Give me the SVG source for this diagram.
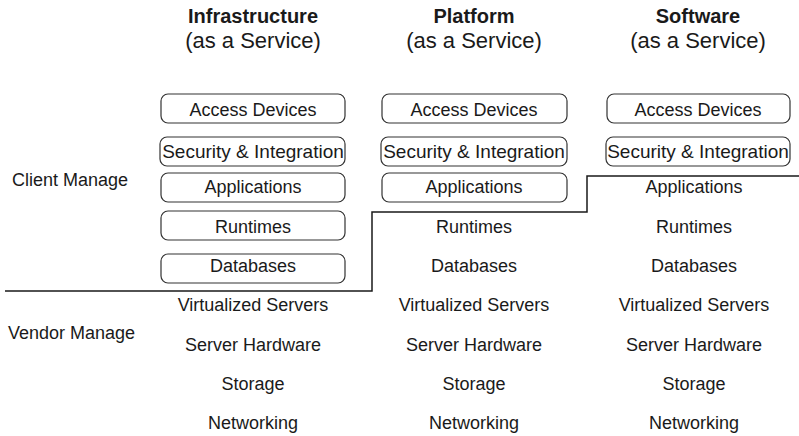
<svg xmlns="http://www.w3.org/2000/svg" width="799" height="436" viewBox="0 0 799 436">
  <style>
    text { font-family: "Liberation Sans", Arial, sans-serif; fill: #1a1a1a; text-anchor: middle; }
    .title { font-size: 20px; font-weight: bold; }
    .sub { font-size: 22px; }
    .lbl { font-size: 18px; }
    .wide { font-size: 19px; }
    .side { font-size: 18px; text-anchor: start; }
    .box { fill: #ffffff; stroke: #333333; stroke-width: 1.2; }
    .divider { fill: none; stroke: #1a1a1a; stroke-width: 1.5; }
  </style>
  <rect width="799" height="436" fill="#ffffff"/>

  <!-- column headings -->
  <g id="heading-iaas">
    <text class="title" x="253" y="23">Infrastructure</text>
    <text class="sub" x="253" y="48">(as a Service)</text>
  </g>
  <g id="heading-paas">
    <text class="title" x="474" y="23">Platform</text>
    <text class="sub" x="474" y="48">(as a Service)</text>
  </g>
  <g id="heading-saas">
    <text class="title" x="698" y="23">Software</text>
    <text class="sub" x="698" y="48">(as a Service)</text>
  </g>

  <!-- responsibility labels -->
  <g id="label-client"><text class="side" x="12" y="186">Client Manage</text></g>
  <g id="label-vendor"><text class="side" x="8" y="339">Vendor Manage</text></g>

  <!-- boundary between client and vendor managed layers -->
  <g id="connectors">
    <path class="divider" d="M5,291 H372 V212 H587 V176 H799"/>
  </g>

  <!-- IaaS column -->
  <g id="iaas-access"><rect class="box" x="161" y="94" width="184" height="29" rx="7"/><text class="lbl" x="253" y="116">Access Devices</text></g>
  <g id="iaas-security"><rect class="box" x="160" y="137" width="185" height="29" rx="7"/><text class="lbl wide" x="253" y="158">Security &amp; Integration</text></g>
  <g id="iaas-apps"><rect class="box" x="161" y="173" width="184" height="29" rx="7"/><text class="lbl" x="253" y="193">Applications</text></g>
  <g id="iaas-runtimes"><rect class="box" x="161" y="211" width="184" height="29" rx="7"/><text class="lbl" x="253" y="233">Runtimes</text></g>
  <g id="iaas-databases"><rect class="box" x="161" y="254" width="184" height="29" rx="7"/><text class="lbl" x="253" y="272">Databases</text></g>
  <g id="iaas-virt"><text class="lbl" x="253" y="311">Virtualized Servers</text></g>
  <g id="iaas-hw"><text class="lbl" x="253" y="351">Server Hardware</text></g>
  <g id="iaas-storage"><text class="lbl" x="253" y="390">Storage</text></g>
  <g id="iaas-net"><text class="lbl" x="253" y="429">Networking</text></g>

  <!-- PaaS column -->
  <g id="paas-access"><rect class="box" x="382" y="94" width="185" height="29" rx="7"/><text class="lbl" x="474" y="116">Access Devices</text></g>
  <g id="paas-security"><rect class="box" x="381" y="137" width="186" height="29" rx="7"/><text class="lbl wide" x="474" y="158">Security &amp; Integration</text></g>
  <g id="paas-apps"><rect class="box" x="382" y="173" width="185" height="29" rx="7"/><text class="lbl" x="474" y="193">Applications</text></g>
  <g id="paas-runtimes"><text class="lbl" x="474" y="233">Runtimes</text></g>
  <g id="paas-databases"><text class="lbl" x="474" y="272">Databases</text></g>
  <g id="paas-virt"><text class="lbl" x="474" y="311">Virtualized Servers</text></g>
  <g id="paas-hw"><text class="lbl" x="474" y="351">Server Hardware</text></g>
  <g id="paas-storage"><text class="lbl" x="474" y="390">Storage</text></g>
  <g id="paas-net"><text class="lbl" x="474" y="429">Networking</text></g>

  <!-- SaaS column -->
  <g id="saas-access"><rect class="box" x="607" y="94" width="183" height="29" rx="7"/><text class="lbl" x="698" y="116">Access Devices</text></g>
  <g id="saas-security"><rect class="box" x="606" y="137" width="184" height="29" rx="7"/><text class="lbl wide" x="698" y="158">Security &amp; Integration</text></g>
  <g id="saas-apps"><text class="lbl" x="694" y="193">Applications</text></g>
  <g id="saas-runtimes"><text class="lbl" x="694" y="233">Runtimes</text></g>
  <g id="saas-databases"><text class="lbl" x="694" y="272">Databases</text></g>
  <g id="saas-virt"><text class="lbl" x="694" y="311">Virtualized Servers</text></g>
  <g id="saas-hw"><text class="lbl" x="694" y="351">Server Hardware</text></g>
  <g id="saas-storage"><text class="lbl" x="694" y="390">Storage</text></g>
  <g id="saas-net"><text class="lbl" x="694" y="429">Networking</text></g>
</svg>
